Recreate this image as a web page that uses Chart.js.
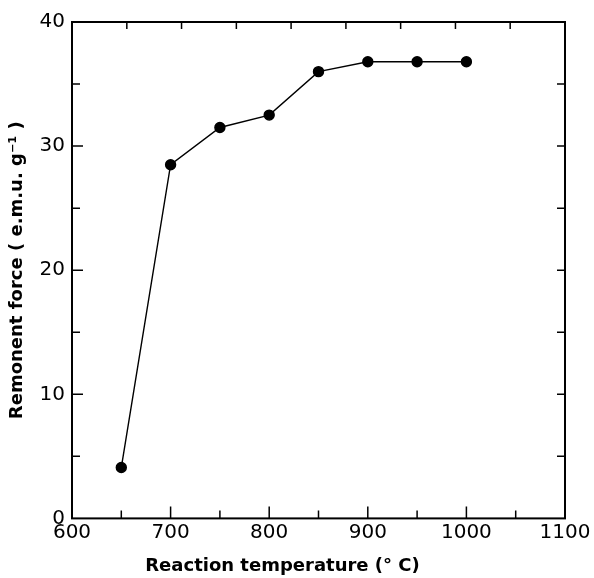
<!DOCTYPE html>
<html>
<head>
<meta charset="utf-8">
<script src="https://cdn.jsdelivr.net/npm/chart.js@4"></script>
<style>
  html, body { margin: 0; padding: 0; background: #fff; }
  #wrap { width: 594px; height: 578px; }
</style>
</head>
<body>
<div id="wrap"><canvas id="c" width="594" height="578"></canvas></div>
<script>
// Reaction temperature (°C) and remanent force (e.m.u. g^-1)
const temperatures = [650, 700, 750, 800, 850, 900, 950, 1000];
const remanentForce = [4.1, 28.5, 31.5, 32.5, 36.0, 36.8, 36.8, 36.8];

// Axis ranges, labelled ticks and tick marks
const xRange = [600, 1100];
const yRange = [0, 40];
const xLabels = [600, 700, 800, 900, 1000, 1100];
const yLabels = [0, 10, 20, 30, 40];
const xMajorTicks = [700, 800, 900, 1000];
const xMinorTicks = [650, 750, 850, 950, 1050];
const xTopTicks = [655.6, 711.1, 766.7, 822.2, 877.8, 933.3, 988.9, 1044.4];
const yMajorTicks = [10, 20, 30];
const yMinorTicks = [5, 15, 25, 35];
const yRightTicks = [5, 10, 15, 20, 25, 30, 35];

const tickFont = { family: 'DejaVu Sans', size: 20, weight: 'normal' };
const titleFont = { family: 'DejaVu Sans', size: 18, weight: 'bold' };

// Frame around the plot with inward-pointing tick marks
const framePlugin = {
  id: 'frame',
  afterDatasetsDraw(chart) {
    const { ctx, chartArea: a, scales: { x, y } } = chart;
    ctx.save();
    ctx.strokeStyle = '#000';
    ctx.lineWidth = 2;
    ctx.strokeRect(a.left, a.top, a.right - a.left, a.bottom - a.top);
    ctx.lineWidth = 1.5;
    ctx.beginPath();
    const vt = (v, y0, len) => { const px = x.getPixelForValue(v); ctx.moveTo(px, y0); ctx.lineTo(px, y0 + len); };
    const ht = (v, x0, len) => { const py = y.getPixelForValue(v); ctx.moveTo(x0, py); ctx.lineTo(x0 + len, py); };
    xMajorTicks.forEach(v => vt(v, a.bottom, -12));
    xMinorTicks.forEach(v => vt(v, a.bottom, -8));
    xTopTicks.forEach(v => vt(v, a.top, 7));
    yMajorTicks.forEach(v => ht(v, a.left, 11));
    yMinorTicks.forEach(v => ht(v, a.left, 8));
    yRightTicks.forEach(v => ht(v, a.right, -8));
    ctx.stroke();
    ctx.restore();
  }
};

new Chart(document.getElementById('c'), {
  type: 'line',
  data: {
    datasets: [{
      data: temperatures.map((t, i) => ({ x: t, y: remanentForce[i] })),
      borderColor: '#000',
      borderWidth: 1.4,
      backgroundColor: '#000',
      pointBackgroundColor: '#000',
      pointBorderColor: '#000',
      pointRadius: 5,
      tension: 0,
      fill: false
    }]
  },
  options: {
    responsive: false,
    animation: false,
    layout: { padding: { left: 0, right: 29, top: 22, bottom: 0 } },
    plugins: {
      legend: { display: false },
      tooltip: { enabled: false },
      title: {
        display: true,
        position: 'bottom',
        text: 'Reaction temperature (° C)',
        color: '#000',
        font: titleFont,
        padding: { top: 7, bottom: 1 }
      }
    },
    scales: {
      x: {
        type: 'linear',
        min: xRange[0],
        max: xRange[1],
        afterBuildTicks: s => { s.ticks = xLabels.map(v => ({ value: v })); },
        afterFit: s => { s.height = 30; },
        grid: { display: false, drawTicks: false },
        border: { display: false },
        ticks: { color: '#000', font: tickFont, padding: 2, maxRotation: 0, autoSkip: false, callback: v => String(v) }
      },
      y: {
        type: 'linear',
        min: yRange[0],
        max: yRange[1],
        afterBuildTicks: s => { s.ticks = yLabels.map(v => ({ value: v })); },
        afterFit: s => { s.width = 72; },
        grid: { display: false, drawTicks: false },
        border: { display: false },
        ticks: { color: '#000', font: tickFont, padding: 7, callback: v => String(v) },
        title: {
          display: true,
          text: 'Remonent force ( e.m.u. g\u207B\u00B9 )',
          color: '#000',
          font: titleFont,
          padding: { top: 7, bottom: 0 }
        }
      }
    }
  },
  plugins: [framePlugin]
});
</script>
</body>
</html>
